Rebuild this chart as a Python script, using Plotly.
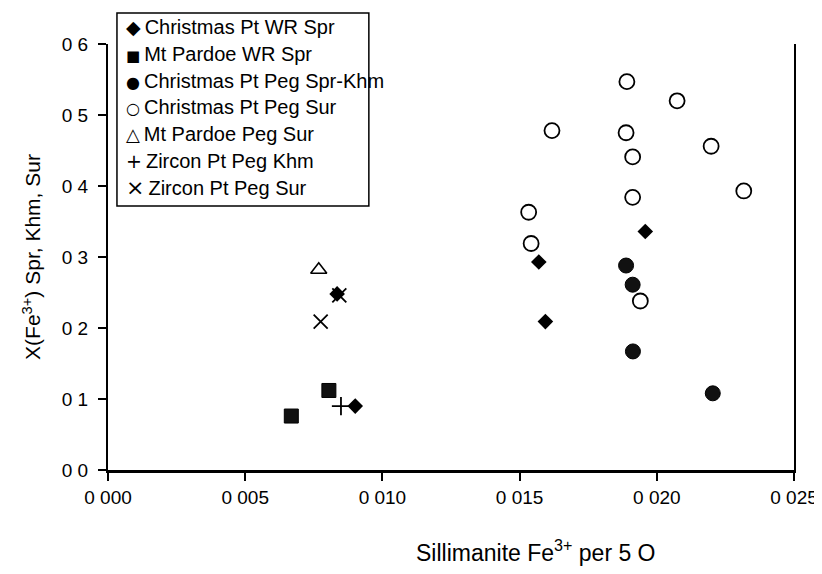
import plotly.graph_objects as go

# ---- data ----
series_names = [
    "Christmas Pt WR Spr",
    "Mt Pardoe WR Spr",
    "Christmas Pt Peg Spr-Khm",
    "Christmas Pt Peg Sur",
    "Mt Pardoe Peg Sur",
    "Zircon Pt Peg Khm",
    "Zircon Pt Peg Sur",
]
legend_glyphs = ["\u25C6", "\u25A0", "\u25CF", "\u25CB", "\u25B3", "+", "\u00D7"]

cp_wr_spr_x = [0.00835, 0.00901, 0.01570, 0.01594, 0.01958]
cp_wr_spr_y = [0.248, 0.090, 0.293, 0.209, 0.336]

mp_wr_spr_x = [0.00668, 0.00805]
mp_wr_spr_y = [0.076, 0.112]

cp_peg_sprkhm_x = [0.01888, 0.01912, 0.01913, 0.02204]
cp_peg_sprkhm_y = [0.288, 0.261, 0.167, 0.108]

cp_peg_sur_x = [0.01891, 0.02074, 0.01618, 0.01888, 0.01912, 0.02198, 0.01912,
                0.02317, 0.01533, 0.01542, 0.01940]
cp_peg_sur_y = [0.547, 0.520, 0.478, 0.475, 0.441, 0.456, 0.384,
                0.393, 0.363, 0.319, 0.238]

mp_peg_sur_x = [0.00768]
mp_peg_sur_y = [0.282]

zp_peg_khm_x = [0.00849]
zp_peg_khm_y = [0.090]

zp_peg_sur_x = [0.00843, 0.00775]
zp_peg_sur_y = [0.246, 0.209]

x_tickvals = [0.000, 0.005, 0.010, 0.015, 0.020, 0.025]
x_ticktext = ["0 000", "0 005", "0 010", "0 015", "0 020", "0 025"]
y_tickvals = [0.0, 0.1, 0.2, 0.3, 0.4, 0.5, 0.6]
y_ticktext = ["0 0", "0 1", "0 2", "0 3", "0 4", "0 5", "0 6"]

x_title = "Sillimanite Fe<sup>3+</sup> per 5 O"
y_title = "X(Fe<sup>3+</sup>) Spr, Khm, Sur"

FONT = "Liberation Sans, Arial, sans-serif"
GLYPH_FONT = "DejaVu Sans"
BLACK = "#000000"

W, H = 822, 574
ML, MR, MT, MB = 100, 33, 36, 112
PW, PH = W - ML - MR, H - MT - MB


def px_to_paper_x(px):
    return (px - ML) / PW


def px_to_paper_y(py):
    return (H - MB - py) / PH


fig = go.Figure()

fig.add_trace(go.Scatter(
    x=cp_wr_spr_x, y=cp_wr_spr_y, mode="markers", name=series_names[0],
    marker=dict(symbol="diamond", size=12, color=BLACK, line=dict(width=0))))
fig.add_trace(go.Scatter(
    x=mp_wr_spr_x, y=mp_wr_spr_y, mode="markers", name=series_names[1],
    marker=dict(symbol="square", size=14, color="#111111", line=dict(width=1, color=BLACK))))
fig.add_trace(go.Scatter(
    x=cp_peg_sprkhm_x, y=cp_peg_sprkhm_y, mode="markers", name=series_names[2],
    marker=dict(symbol="circle", size=15, color="#111111", line=dict(width=1, color=BLACK))))
fig.add_trace(go.Scatter(
    x=cp_peg_sur_x, y=cp_peg_sur_y, mode="markers", name=series_names[3],
    marker=dict(symbol="circle-open", size=15, color=BLACK, line=dict(width=1.8))))
fig.add_trace(go.Scatter(
    x=mp_peg_sur_x, y=mp_peg_sur_y, mode="markers", name=series_names[4],
    marker=dict(symbol="triangle-up-open", size=14, color=BLACK, line=dict(width=1.6))))
fig.add_trace(go.Scatter(
    x=zp_peg_khm_x, y=zp_peg_khm_y, mode="markers", name=series_names[5],
    marker=dict(symbol="cross-thin", size=13, color=BLACK, line=dict(width=1.8, color=BLACK))))
fig.add_trace(go.Scatter(
    x=zp_peg_sur_x, y=zp_peg_sur_y, mode="markers", name=series_names[6],
    marker=dict(symbol="x-thin", size=14, color=BLACK, line=dict(width=1.8, color=BLACK))))

# ---- legend box drawn as a shape + text rows (Excel-style glyph + label) ----
box_left, box_right, box_top, box_bottom = 109, 362, 5, 198
row_first, row_step = 19, 26.8
text_left = 116
glyph_sizes = [19, 15, 16, 16, 18, 19, 22]

shapes = [dict(
    type="rect", xref="paper", yref="paper", layer="above",
    x0=px_to_paper_x(box_left), x1=px_to_paper_x(box_right),
    y0=px_to_paper_y(box_bottom), y1=px_to_paper_y(box_top),
    line=dict(color=BLACK, width=1.5), fillcolor="white",
)]

annotations = []
for i, (g, name) in enumerate(zip(legend_glyphs, series_names)):
    glyph = '<span style="font-family:%s;font-size:%dpx">%s</span>' % (
        GLYPH_FONT, glyph_sizes[i], g)
    annotations.append(dict(
        xref="paper", yref="paper",
        x=px_to_paper_x(text_left), y=px_to_paper_y(row_first + i * row_step),
        xanchor="left", yanchor="middle", showarrow=False,
        text=glyph + "\u2009" + name,
        font=dict(family=FONT, size=20, color=BLACK),
    ))

# x-axis title sits right of the plot centre in the original
annotations.append(dict(
    xref="paper", yref="paper",
    x=px_to_paper_x(530), y=px_to_paper_y(543),
    xanchor="center", yanchor="middle", showarrow=False,
    text=x_title, font=dict(family=FONT, size=23, color=BLACK),
))

for tr in fig.data:
    tr.showlegend = False

fig.update_layout(
    width=W, height=H,
    margin=dict(l=ML, r=MR, t=MT, b=MB, pad=0),
    paper_bgcolor="white", plot_bgcolor="white",
    font=dict(family=FONT, size=19, color=BLACK),
    showlegend=False,
    shapes=shapes,
    annotations=annotations,
    xaxis=dict(
        range=[0, 0.025], tickvals=x_tickvals, ticktext=x_ticktext,
        showgrid=False, zeroline=False,
        showline=True, linecolor=BLACK, linewidth=2.5, mirror=False,
        ticks="outside", ticklen=8, tickwidth=2, tickcolor=BLACK,
        tickfont=dict(family=FONT, size=19, color=BLACK),
        ticklabelstandoff=0,
    ),
    yaxis=dict(
        range=[0, 0.6], tickvals=y_tickvals, ticktext=y_ticktext,
        showgrid=False, zeroline=False,
        showline=True, linecolor=BLACK, linewidth=2, mirror=True,
        ticks="outside", ticklen=8, tickwidth=2, tickcolor=BLACK,
        tickfont=dict(family=FONT, size=19, color=BLACK),
        ticklabelstandoff=6,
        title=dict(text=y_title,
                   font=dict(family=FONT, size=21, color=BLACK), standoff=15),
    ),
)

fig.write_html("out.html")
